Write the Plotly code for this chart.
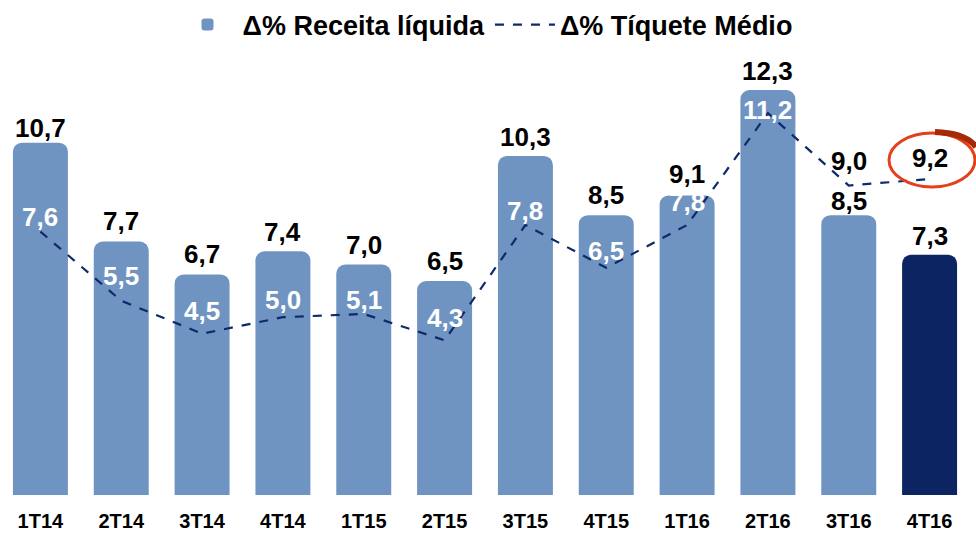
import plotly.graph_objects as go

categories = ["1T14", "2T14", "3T14", "4T14", "1T15", "2T15", "3T15", "4T15", "1T16", "2T16", "3T16", "4T16"]
receita = [10.7, 7.7, 6.7, 7.4, 7.0, 6.5, 10.3, 8.5, 9.1, 12.3, 8.5, 7.3]
tiquete = [7.6, 5.5, 4.5, 5.0, 5.1, 4.3, 7.8, 6.5, 7.8, 11.2, 9.0, 9.2]

# styling
bar_colors = ["#7094C1"] * 11 + ["#0C2462"]
bar_label_shift = [15, 20, 20, 19, 20, 20, 19, 20, 21, 19, 14, 19]
line_label_shift = [15, 25, 23, 17, 14, 22, 14, 17, 23, 3, 25, 21]
line_label_color = ["white"] * 10 + ["black", "black"]
FONT = "Liberation Sans, Arial, sans-serif"

fig = go.Figure()
fig.add_trace(go.Bar(
    x=categories, y=receita, name="Δ% Receita líquida",
    marker=dict(color=bar_colors, line=dict(width=0)),
    yaxis="y",
))
fig.add_trace(go.Scatter(
    x=categories, y=tiquete, name="Δ% Tíquete Médio",
    mode="lines", line=dict(color="#0D2A6B", width=2.2, dash="dash"),
    yaxis="y2",
))

annotations = []
for c, v, s in zip(categories, receita, bar_label_shift):
    annotations.append(dict(
        x=c, y=v, xref="x", yref="y", text=f"{v:.1f}".replace(".", ","),
        showarrow=False, yshift=s, font=dict(family=FONT, size=26, color="black", weight="bold"),
    ))
for c, v, s, col in zip(categories, tiquete, line_label_shift, line_label_color):
    annotations.append(dict(
        x=c, y=v, xref="x", yref="y2", text=f"{v:.1f}".replace(".", ","),
        showarrow=False, yshift=s, font=dict(family=FONT, size=26, color=col, weight="bold"),
    ))

H = 428.0
W = 970.0
def px(x):
    return x / W
def py(y):
    return (495 - y) / H

shapes = [
    dict(type="circle", xref="paper", yref="paper",
         x0=px(889), x1=px(975), y0=py(187), y1=py(133),
         line=dict(color="#E4401A", width=3)),
    dict(type="path", xref="paper", yref="paper",
         path=f"M {px(935)},{py(132)} Q {px(966)},{py(133)} {px(976)},{py(147)}",
         line=dict(color="#A52A08", width=6)),
]

fig.update_layout(
    width=976, height=533,
    margin=dict(l=0, r=6, t=67, b=38, autoexpand=False),
    paper_bgcolor="white", plot_bgcolor="white",
    separators=", ",
    bargap=0.32,
    barcornerradius=9,
    font=dict(family=FONT, color="black"),
    showlegend=True,
    legend=dict(orientation="h", x=0.5, xanchor="center", y=1.098, yanchor="middle",
                font=dict(family=FONT, size=27, color="black", weight="bold"),
                itemwidth=60, bgcolor="rgba(0,0,0,0)"),
    xaxis=dict(type="category", showgrid=False, showline=False, zeroline=False,
               ticks="", ticklabelstandoff=12,
               tickfont=dict(family=FONT, size=20, color="black", weight="bold")),
    yaxis=dict(range=[0, 13], visible=False, showgrid=False, zeroline=False),
    yaxis2=dict(range=[-0.4, 12.6], overlaying="y", visible=False, showgrid=False, zeroline=False),
    annotations=annotations,
    shapes=shapes,
)

fig.write_html("out.html", config={"displayModeBar": False},
               post_script="document.body.style.margin='0';document.body.style.overflow='hidden';")
